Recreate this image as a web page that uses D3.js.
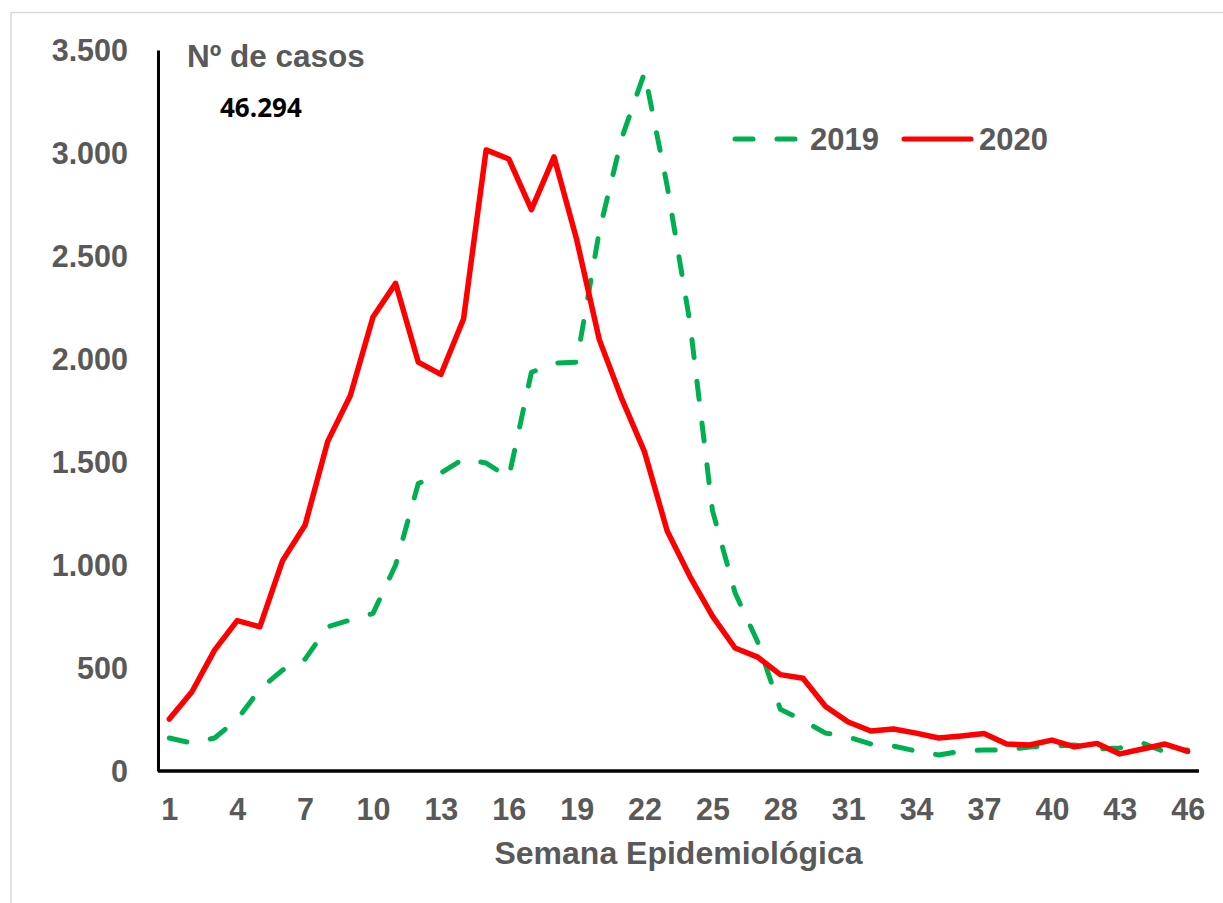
<!DOCTYPE html>
<html>
<head>
<meta charset="utf-8">
<script src="https://cdn.jsdelivr.net/npm/d3@7"></script>
<style>
  html, body { margin: 0; padding: 0; background: #ffffff; }
  svg { display: block; }
</style>
</head>
<body>
<svg id="chart" width="1223" height="903"></svg>
<script>
// ---- data ----
const weeks = d3.range(1, 47);
const cases2019 = [160, 135, 160, 250, 397, 490, 543, 700, 733, 765,
                   1000, 1395, 1447, 1515, 1495, 1425, 1935, 1980, 1985, 2620,
                   3075, 3390, 2840, 2180, 1265, 865, 626, 300, 245, 184,
                   165, 131, 121, 97, 78, 97, 102, 102, 117, 121,
                   126, 107, 112, 136, 92, 102];
const cases2020 = [252, 385, 587, 730, 700, 1020, 1194, 1600, 1823, 2204,
                   2367, 1985, 1925, 2194, 3015, 2971, 2725, 2981, 2580, 2094,
                   1805, 1549, 1165, 945, 752, 597, 553, 468, 450, 313,
                   238, 194, 204, 184, 160, 170, 182, 131, 126, 150,
                   117, 134, 83, 107, 131, 95];
const xTickLabels = [1, 4, 7, 10, 13, 16, 19, 22, 25, 28, 31, 34, 37, 40, 43, 46];
const yTicks = [0, 500, 1000, 1500, 2000, 2500, 3000, 3500];
const seriesNames = ["2019", "2020"];
const yTitle = "Nº de casos";
const xTitle = "Semana Epidemiológica";
const totalLabel = "46.294";

// ---- layout ----
const svg = d3.select("#chart");
const plotLeft = 158, plotRight = 1199, plotTop = 50, plotBottom = 771;
const grey = "#595959";
const green = "#00b050", red = "#ff0000";
const font = "'Liberation Sans', Arial, sans-serif";

// outer border (light)
svg.append("rect")
  .attr("x", 11).attr("y", 12.5)
  .attr("width", 1240).attr("height", 920)
  .attr("fill", "none").attr("stroke", "#d9d9d9").attr("stroke-width", 1.5);

const x = d3.scalePoint().domain(weeks).range([plotLeft, plotRight]).padding(0.5);
const y = d3.scaleLinear().domain([0, 3500]).range([plotBottom, plotTop]);

const fmt = v => d3.format(",")(v).replace(/,/g, ".");

// y axis
const yAxis = svg.append("g").attr("transform", `translate(${plotLeft},0)`)
  .call(d3.axisLeft(y).tickValues(yTicks).tickSize(0).tickPadding(30).tickFormat(fmt));
yAxis.select(".domain").attr("stroke", "#000").attr("stroke-width", 3);
yAxis.selectAll("text")
  .attr("font-family", font).attr("font-weight", "bold").attr("font-size", 30.5)
  .attr("fill", grey).attr("dy", "0.35em");

// x axis
const xAxis = svg.append("g").attr("transform", `translate(0,${plotBottom})`)
  .call(d3.axisBottom(x).tickValues(xTickLabels).tickSize(0).tickPadding(27));
xAxis.select(".domain").attr("stroke", "#000").attr("stroke-width", 3.5)
  .attr("d", `M${plotLeft},0H${plotRight}`);
xAxis.selectAll("text")
  .attr("font-family", font).attr("font-weight", "bold").attr("font-size", 30.5)
  .attr("fill", grey).attr("dy", "0.71em");

// lines
const line = d3.line().x((d, i) => x(weeks[i])).y(d => y(d));
svg.append("path").datum(cases2019)
  .attr("d", line).attr("fill", "none")
  .attr("stroke", green).attr("stroke-width", 5)
  .attr("stroke-dasharray", "18,24").attr("stroke-linecap", "round")
  .attr("stroke-linejoin", "round");
svg.append("path").datum(cases2020)
  .attr("d", line).attr("fill", "none")
  .attr("stroke", red).attr("stroke-width", 5.5)
  .attr("stroke-linecap", "round").attr("stroke-linejoin", "round");

// titles
svg.append("text").attr("x", 187).attr("y", 67)
  .attr("font-family", font).attr("font-weight", "bold").attr("font-size", 31.5)
  .attr("fill", grey).text(yTitle);
svg.append("text").attr("x", 220).attr("y", 117)
  .attr("font-family", "'Open Sans', sans-serif").attr("font-weight", "bold").attr("font-size", 26)
  .attr("fill", "#000").text(totalLabel);
svg.append("text").attr("x", 678.5).attr("y", 864)
  .attr("text-anchor", "middle")
  .attr("font-family", font).attr("font-weight", "bold").attr("font-size", 32)
  .attr("fill", grey).text(xTitle);

// legend
const legend = svg.append("g");
const legItems = [
  {name: seriesNames[0], color: green, dash: "18,24", x0: 735, x1: 797, tx: 810},
  {name: seriesNames[1], color: red, dash: null, x0: 904, x1: 971, tx: 979}
];
legItems.forEach(it => {
  legend.append("line").attr("x1", it.x0).attr("x2", it.x1).attr("y1", 139).attr("y2", 139)
    .attr("stroke", it.color).attr("stroke-width", 5).attr("stroke-linecap", "round")
    .attr("stroke-dasharray", it.dash);
  legend.append("text").attr("x", it.tx).attr("y", 150)
    .attr("font-family", font).attr("font-weight", "bold").attr("font-size", 31)
    .attr("fill", grey).text(it.name);
});
</script>
</body>
</html>
